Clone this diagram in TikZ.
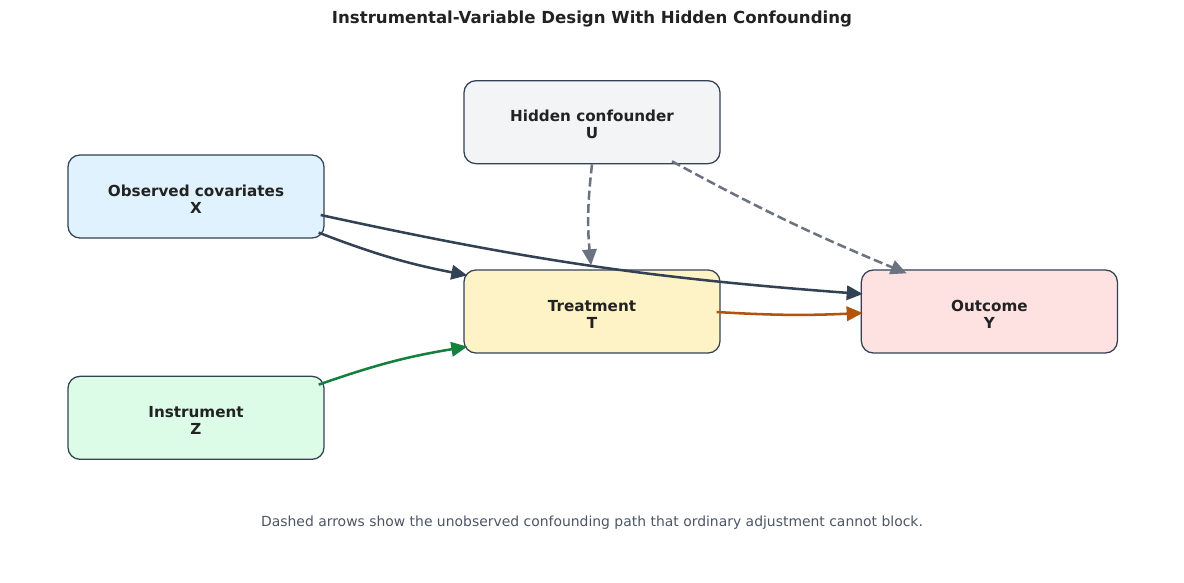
\documentclass[tikz,border=0pt]{standalone}
\usepackage{fontspec}
\setmainfont{DejaVu Sans}
\usepackage{tikz}
\usepackage{xcolor}
\usetikzlibrary{positioning,arrows.meta}

\definecolor{ink}{HTML}{222222}
\definecolor{edge}{HTML}{334155}
\definecolor{slate}{HTML}{334155}
\definecolor{ash}{HTML}{6B7280}
\definecolor{rust}{HTML}{B45309}
\definecolor{leaf}{HTML}{15803D}
\definecolor{note}{HTML}{4B5563}
\definecolor{fill-x}{HTML}{E0F2FE}
\definecolor{fill-u}{HTML}{F3F4F6}
\definecolor{fill-t}{HTML}{FEF3C7}
\definecolor{fill-y}{HTML}{FEE2E2}
\definecolor{fill-z}{HTML}{DCFCE7}

\begin{document}
\begin{tikzpicture}
[x=0.025cm, y=-0.025cm,
box-a/.style={rectangle, rounded corners=0.3cm, draw=edge, line width=0.9pt,
  minimum width=6.4cm, minimum height=2.075cm, align=center, text=ink,
  font=\fontsize{10.8}{12}\selectfont\bfseries, text height=23.8pt},
arr-a/.style={line width=1.8pt, -{Triangle[length=4mm,width=3.6mm]}},
arr-b/.style={arr-a, color=ash, dash pattern=on 6.5pt off 2.9pt},
text-a/.style={text=ink},]
\useasboundingbox (0,0) rectangle (1184,583);
%\draw [dotted, step=100] (0,0) grid (1184,583);
\node (title) [text-a, font=\fontsize{11.8}{14}\selectfont\bfseries] at (592,19) {Instrumental-Variable Design With Hidden Confounding};
\node (cell-t) [box-a, fill=fill-t] at (592,311.5) {Treatment\\T};
\node (cell-u) [box-a, fill=fill-u, above = 2.625cm of cell-t] {Hidden confounder\\U};
\node (cell-y) [box-a, fill=fill-y, right = 3.5cm of cell-t] {Outcome\\Y};
\node (cell-x) [box-a, fill=fill-x] at (196,196.5) {Observed covariates\\X};
\node (cell-z) [box-a, fill=fill-z, below = 3.425cm of cell-x] {Instrument\\Z};
\node (note) [text=note, font=\fontsize{9.9}{12}\selectfont] at (592,523) {Dashed arrows show the unobserved confounding path that ordinary adjustment cannot block.};
\draw [arr-a, color=slate] ([shift={(-6,-6)}]cell-x.south east) to [bend right=5] ([shift={(4,6)}]cell-t.north west);
\draw [arr-a, color=slate] ([shift={(-4,18.5)}]cell-x.east) to [bend right=4] ([shift={(2,-17.5)}]cell-y.west);
\draw [arr-b] (cell-u.south) to [bend right=6] ([shift={(-1,-4)}]cell-t.north);
\draw [arr-b] ([shift={(80,-3)}]cell-u.south) to [bend right=3] ([shift={(46,4)}]cell-y.north west);
\draw [arr-a, color=rust] ([shift={(-4,0.5)}]cell-t.east) to [bend right=3] ([shift={(2,1.5)}]cell-y.west);
\draw [arr-a, color=leaf] ([shift={(-6,9)}]cell-z.north east) to [bend left=5] ([shift={(4,-7)}]cell-t.south west);
\end{tikzpicture}
\end{document}
